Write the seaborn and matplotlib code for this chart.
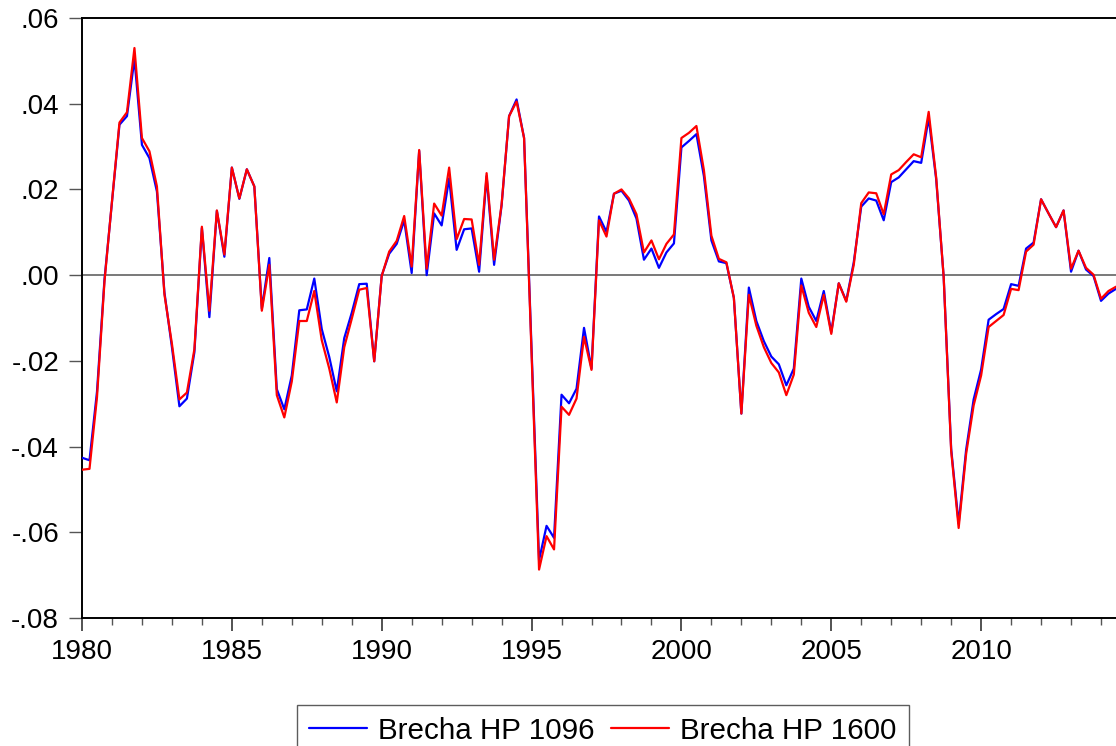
import numpy as np
import pandas as pd
import matplotlib
matplotlib.use("Agg")
import matplotlib.pyplot as plt
from matplotlib.ticker import FuncFormatter, MultipleLocator, FixedLocator
import seaborn as sns

# Quarterly output gap, 1980Q1 - 2014Q3, from two HP filter smoothing parameters
start_year = 1980
brecha_1096 = [
    -0.0426, -0.0432, -0.0272, -0.0010, 0.0170, 0.0351, 0.0371, 0.0505,
    0.0304, 0.0273, 0.0195, -0.0040, -0.0168, -0.0306, -0.0288, -0.0180,
    0.0110, -0.0098, 0.0150, 0.0043, 0.0251, 0.0178, 0.0247, 0.0207,
    -0.0078, 0.0040, -0.0266, -0.0313, -0.0234, -0.0082, -0.0080, -0.0008,
    -0.0126, -0.0191, -0.0271, -0.0147, -0.0088, -0.0021, -0.0020, -0.0201,
    -0.0001, 0.0050, 0.0073, 0.0128, 0.0005, 0.0290, 0.0000, 0.0144,
    0.0116, 0.0226, 0.0059, 0.0107, 0.0109, 0.0008, 0.0231, 0.0024,
    0.0163, 0.0371, 0.0410, 0.0320, -0.0170, -0.0665, -0.0585, -0.0613,
    -0.0279, -0.0299, -0.0265, -0.0123, -0.0218, 0.0137, 0.0101, 0.0190,
    0.0197, 0.0174, 0.0132, 0.0036, 0.0062, 0.0017, 0.0053, 0.0074,
    0.0298, 0.0313, 0.0329, 0.0231, 0.0081, 0.0032, 0.0028, -0.0053,
    -0.0323, -0.0029, -0.0107, -0.0154, -0.0190, -0.0208, -0.0257, -0.0218,
    -0.0008, -0.0074, -0.0107, -0.0037, -0.0133, -0.0019, -0.0060, 0.0030,
    0.0160, 0.0179, 0.0174, 0.0128, 0.0217, 0.0228, 0.0247, 0.0266,
    0.0262, 0.0367, 0.0224, -0.0004, -0.0405, -0.0580, -0.0407, -0.0290,
    -0.0220, -0.0104, -0.0091, -0.0079, -0.0021, -0.0025, 0.0062, 0.0076,
    0.0177, 0.0144, 0.0112, 0.0151, 0.0008, 0.0057, 0.0013, -0.0002,
    -0.0060, -0.0043, -0.0032,
]
brecha_1600 = [
    -0.0454, -0.0452, -0.0285, -0.0015, 0.0172, 0.0356, 0.0380, 0.0530,
    0.0320, 0.0289, 0.0207, -0.0045, -0.0160, -0.0290, -0.0274, -0.0173,
    0.0113, -0.0083, 0.0151, 0.0048, 0.0251, 0.0179, 0.0247, 0.0207,
    -0.0083, 0.0024, -0.0280, -0.0332, -0.0248, -0.0107, -0.0107, -0.0037,
    -0.0152, -0.0218, -0.0297, -0.0168, -0.0102, -0.0034, -0.0030, -0.0201,
    -0.0002, 0.0055, 0.0080, 0.0138, 0.0020, 0.0292, 0.0015, 0.0167,
    0.0139, 0.0251, 0.0084, 0.0131, 0.0130, 0.0024, 0.0238, 0.0036,
    0.0165, 0.0371, 0.0405, 0.0320, -0.0180, -0.0687, -0.0609, -0.0640,
    -0.0307, -0.0326, -0.0288, -0.0144, -0.0221, 0.0128, 0.0090, 0.0190,
    0.0200, 0.0179, 0.0142, 0.0053, 0.0081, 0.0037, 0.0073, 0.0095,
    0.0320, 0.0332, 0.0348, 0.0245, 0.0092, 0.0038, 0.0030, -0.0053,
    -0.0323, -0.0046, -0.0118, -0.0168, -0.0205, -0.0227, -0.0280, -0.0232,
    -0.0024, -0.0088, -0.0121, -0.0046, -0.0137, -0.0019, -0.0062, 0.0024,
    0.0168, 0.0193, 0.0191, 0.0142, 0.0235, 0.0245, 0.0264, 0.0282,
    0.0275, 0.0381, 0.0228, -0.0004, -0.0410, -0.0590, -0.0417, -0.0304,
    -0.0234, -0.0121, -0.0107, -0.0093, -0.0032, -0.0035, 0.0055, 0.0071,
    0.0177, 0.0144, 0.0112, 0.0151, 0.0015, 0.0057, 0.0017, 0.0001,
    -0.0055, -0.0037, -0.0027,
]
series_names = ["Brecha HP 1096", "Brecha HP 1600"]
series_colors = ["#0000ff", "#ff0000"]
year_labels = [1980, 1985, 1990, 1995, 2000, 2005, 2010]
y_ticks = [-0.08, -0.06, -0.04, -0.02, 0.00, 0.02, 0.04, 0.06]

n = len(brecha_1096)
t = start_year + np.arange(n) / 4.0
df = pd.concat([
    pd.DataFrame({"t": t, "valor": brecha_1096, "serie": series_names[0]}),
    pd.DataFrame({"t": t, "valor": brecha_1600, "serie": series_names[1]}),
])

sns.set_theme(style="ticks")
plt.rcParams["font.family"] = ["Liberation Sans", "DejaVu Sans"]
plt.rcParams["text.color"] = "black"
plt.rcParams["xtick.labelcolor"] = "black"
plt.rcParams["ytick.labelcolor"] = "black"

fig = plt.figure(figsize=(11.16, 7.46), dpi=100)
ax = fig.add_axes([82 / 1116, 1 - 618 / 746, 1 - 82 / 1116, (618 - 18) / 746])

ax.axhline(0, color="#6e6e6e", lw=1.3, zorder=1)
sns.lineplot(data=df, x="t", y="valor", hue="serie",
             palette=dict(zip(series_names, series_colors)),
             lw=1.6, ax=ax, legend=False, zorder=3)

ax.set_xlim(start_year, t[-1])
ax.set_ylim(-0.08, 0.06)
ax.set_xlabel("")
ax.set_ylabel("")

ax.xaxis.set_major_locator(FixedLocator(year_labels))
ax.xaxis.set_minor_locator(MultipleLocator(1))
ax.set_xticklabels([str(y) for y in year_labels])
ax.yaxis.set_major_locator(FixedLocator(y_ticks))


def fmt(v, pos):
    s = f"{v:.2f}"
    return s.replace("0.", ".", 1)


ax.yaxis.set_major_formatter(FuncFormatter(fmt))

for side in ["left", "bottom", "top"]:
    ax.spines[side].set_color("black")
    ax.spines[side].set_linewidth(1.4)
ax.spines["right"].set_visible(False)

ax.tick_params(axis="y", which="major", direction="out", length=9.5, width=1,
               color="#555555", labelcolor="black", labelsize=20, pad=7)
ax.tick_params(axis="x", which="major", direction="out", length=9.5, width=1.3,
               color="#444444", labelcolor="black", labelsize=20, pad=5.5)
ax.tick_params(axis="x", which="minor", direction="out", length=5, width=1,
               color="#555555")

handles = [plt.Line2D([], [], color=c, lw=1.6) for c in series_colors]
leg = fig.legend(handles, series_names, loc="upper left",
                 bbox_to_anchor=(297 / 1116, 1 - 705 / 746), ncol=2,
                 fontsize=21.3, frameon=True, fancybox=False, borderpad=0.4,
                 handlelength=1.95, handletextpad=0.38, columnspacing=0.58,
                 borderaxespad=0)
for txt in leg.get_texts():
    txt.set_color("black")
leg.get_frame().set_edgecolor("#333333")
leg.get_frame().set_linewidth(1.0)

fig.savefig("out.png", dpi=100)
